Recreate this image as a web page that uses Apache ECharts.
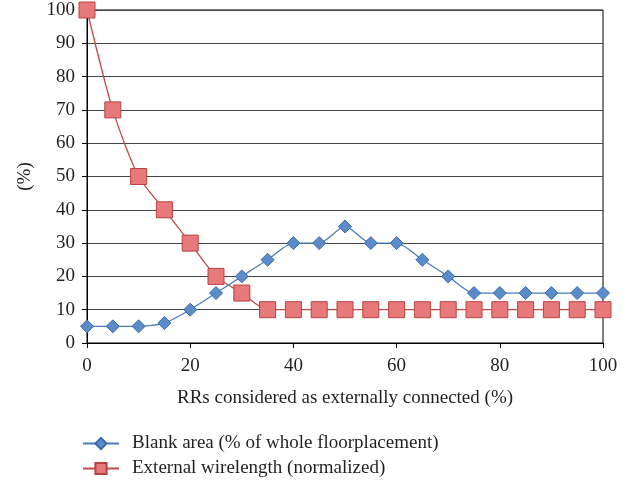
<!DOCTYPE html>
<html><head><meta charset="utf-8">
<script src="https://cdn.jsdelivr.net/npm/echarts@6/dist/echarts.min.js"></script>
<style>html,body{margin:0;padding:0;background:#fff}#c{width:632px;height:484px}</style>
</head><body><div id="c"></div>
<script>
var xValues = [0,5,10,15,20,25,30,35,40,45,50,55,60,65,70,75,80,85,90,95,100];
var blankArea = [5,5,5,6,10,15,20,25,30,30,35,30,30,25,20,15,15,15,15,15,15];
var extWire = [100,70,50,40,30,20,15,10,10,10,10,10,10,10,10,10,10,10,10,10,10];
var seriesNames = ['Blank area (% of whole floorplacement)', 'External wirelength (normalized)'];
function pairs(v){ return xValues.map(function(x,i){ return [x, v[i]]; }); }
var font = 'Liberation Serif';
var chart = echarts.init(document.getElementById('c'));
chart.setOption({
  animation: false,
  textStyle: { fontFamily: font },
  grid: { left: 87, right: 29, top: 10, bottom: 141, show: true, borderColor: '#000', borderWidth: 1 },
  xAxis: {
    type: 'value', min: 0, max: 100, interval: 20,
    name: 'RRs considered as externally connected (%)', nameLocation: 'middle', nameGap: 46,
    nameTextStyle: { fontFamily: font, fontSize: 19, color: '#231f20' },
    axisLine: { lineStyle: { color: '#000' } },
    axisTick: { show: true, length: 5, lineStyle: { color: '#000' } },
    axisLabel: { fontFamily: font, fontSize: 19, color: '#231f20', margin: 14 },
    splitLine: { show: false }
  },
  yAxis: {
    type: 'value', min: 0, max: 100, interval: 10,
    name: '(%)', nameLocation: 'middle', nameGap: 52, nameRotate: 90,
    nameTextStyle: { fontFamily: font, fontSize: 19, color: '#231f20' },
    axisLine: { show: true, lineStyle: { color: '#000' } },
    axisTick: { show: true, length: 5, lineStyle: { color: '#000' } },
    axisLabel: { fontFamily: font, fontSize: 19, color: '#231f20', margin: 12 },
    splitLine: { show: true, lineStyle: { color: '#444', width: 1 } }
  },
  legend: {
    orient: 'vertical', left: 82, top: 434, padding: 0, itemGap: 6, itemWidth: 36, itemHeight: 14,
    textStyle: { fontFamily: font, fontSize: 19, color: '#231f20', padding: [0,0,0,8] },
    data: seriesNames
  },
  series: [
    {
      name: seriesNames[0], type: 'line', data: pairs(blankArea), smooth: 0.25,
      symbol: 'diamond', symbolSize: 13,
      lineStyle: { color: '#4a7ebb', width: 1.3 },
      itemStyle: { color: '#5b8cc9', borderColor: '#3c6aa8', borderWidth: 1 }, z: 3
    },
    {
      name: seriesNames[1], type: 'line', data: pairs(extWire), smooth: 0.25,
      symbol: 'rect', symbolSize: 16,
      lineStyle: { color: '#be4b48', width: 1.3 },
      itemStyle: { color: '#e8797a', borderColor: '#b94240', borderWidth: 1 }, z: 2
    }
  ]
});
</script></body></html>
